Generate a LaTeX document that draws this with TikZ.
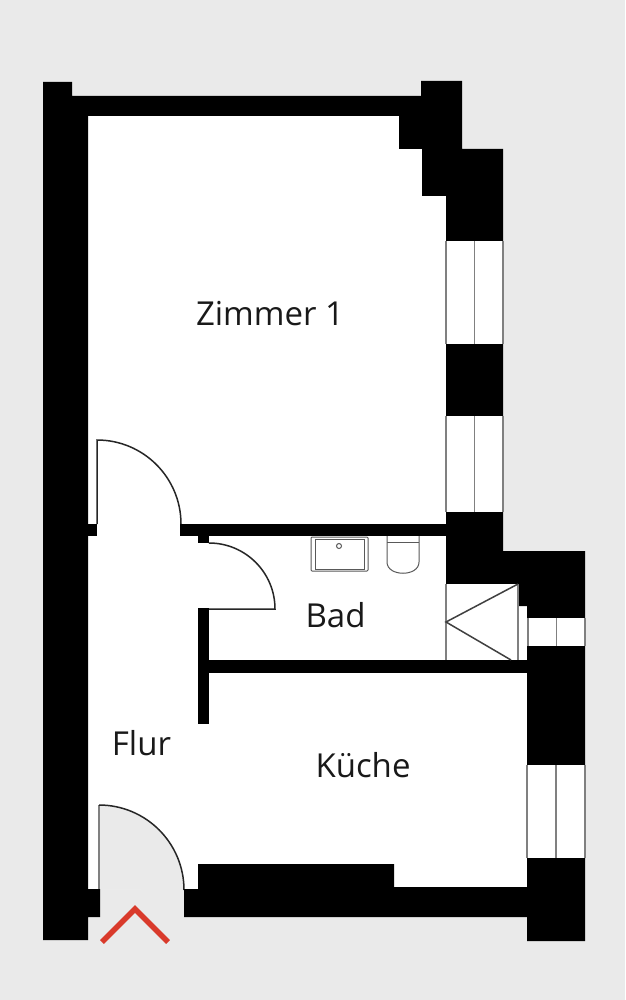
\documentclass[tikz,border=0pt]{standalone}
\usepackage{fontspec}
\setmainfont{Open Sans}
\usetikzlibrary{positioning}
\definecolor{ground}{HTML}{EAEAEA}
\definecolor{marker}{HTML}{D93A2B}
\definecolor{paneline}{HTML}{808080}
\tikzset{
wall/.style={fill=black,draw=none},
pane/.style={draw=paneline,line width=1.1pt},
swing/.style={draw=black!85,line width=1.5pt},
fixture/.style={draw=black!65,line width=1pt,fill=white},
room/.style={anchor=base,font=\fontsize{33}{38}\selectfont,text=black!90}
}

\begin{document}
\begin{tikzpicture}[x=1pt,y=-1pt]
	\useasboundingbox (0,0) rectangle (625,1000);
	\fill[ground] (0,0) rectangle (625,1000);

	% floor
	\fill[white] (80,110) -- (405,110) -- (405,145) -- (430,145) -- (430,190) -- (450,190) -- (450,580) -- (530,580) -- (530,889) -- (80,889) -- cycle;

	% entrance door
	\fill[ground] (99,889) -- (99,805) arc[start angle=90,end angle=0,radius=85pt] -- cycle;
	\draw[pane] (99,889) -- (99,805);
	\draw[swing] (99,805) arc[start angle=90,end angle=0,radius=85pt];

	% outer walls
	\fill[wall] (184,889) -- (184,917) -- (527,917) -- (527,941) -- (585,941) -- (585,551) -- (503,551) -- (503,149) -- (462,149) -- (462,81) -- (421,81) -- (421,96) -- (72,96) -- (72,82) -- (43,82) -- (43,940) -- (88,940) -- (88,917) -- (100,917) -- (100,889) -- (88,889) -- (88,116) -- (399,116) -- (399,149) -- (422,149) -- (422,196) -- (446,196) -- (446,584) -- (518,584) -- (518,606) -- (527,606) -- (527,887) -- (394,887) -- (394,864) -- (198,864) -- (198,889) -- cycle;

	% inner walls
	\fill[wall] (88,524) rectangle (97,536);
	\fill[wall] (180,524) rectangle (446,536);
	\fill[wall] (198,536) rectangle (209,543);
	\fill[wall] (198,608) rectangle (209,724);
	\fill[wall] (209,660) rectangle (527,673);

	% windows
	\foreach \xa/\xb/\ya/\yb in {446/503/241/344,446/503/416/512,528/585/618/646,527/585/765/858}{
		\fill[white] (\xa,\ya) rectangle (\xb,\yb);
		\draw[pane] (\xa,\ya) -- (\xa,\yb);
		\draw[pane] (\xb,\ya) -- (\xb,\yb);
		\draw[pane] ({(\xa+\xb)/2},\ya) -- ({(\xa+\xb)/2},\yb);
	}

	% doors
	\draw[swing] (97,524) -- (97,440) arc[start angle=90,end angle=0,radius=84pt];
	\draw[swing] (209,543) arc[start angle=90,end angle=0,radius=66pt] -- (209,609);

	% shower
	\fill[white] (446,584) rectangle (518,660);
	\draw[pane] (446,584) -- (446,660);
	\draw[pane] (518,584) -- (518,660);
	\draw[swing,draw=black!75] (518,584) -- (446,622) -- (511,660);

	% sink
	\draw[fixture,rounded corners=1pt] (311,537) rectangle (368,571);
	\draw[fixture] (315,539) rectangle (364,569);
	\draw[fixture] (339,546) circle (2.5);

	% toilet
	\draw[fixture] (387,536) -- (387,562) .. controls (387,577) and (419,577) .. (419,562) -- (419,536);
	\draw[fixture] (387,542) -- (419,542);

	% entrance marker
	\draw[marker,line width=5.5pt] (102,942) -- (135,909) -- (168,942);

	% rooms
	\node[room] (zimmer) at (270,325) {Zimmer 1};
	\node[room] (bad) at (335.5,627) {Bad};
	\node[room] (flur) at (141.5,755) {Flur};
	\node[room] (kueche) at (363,777) {Küche};
\end{tikzpicture}
\end{document}
